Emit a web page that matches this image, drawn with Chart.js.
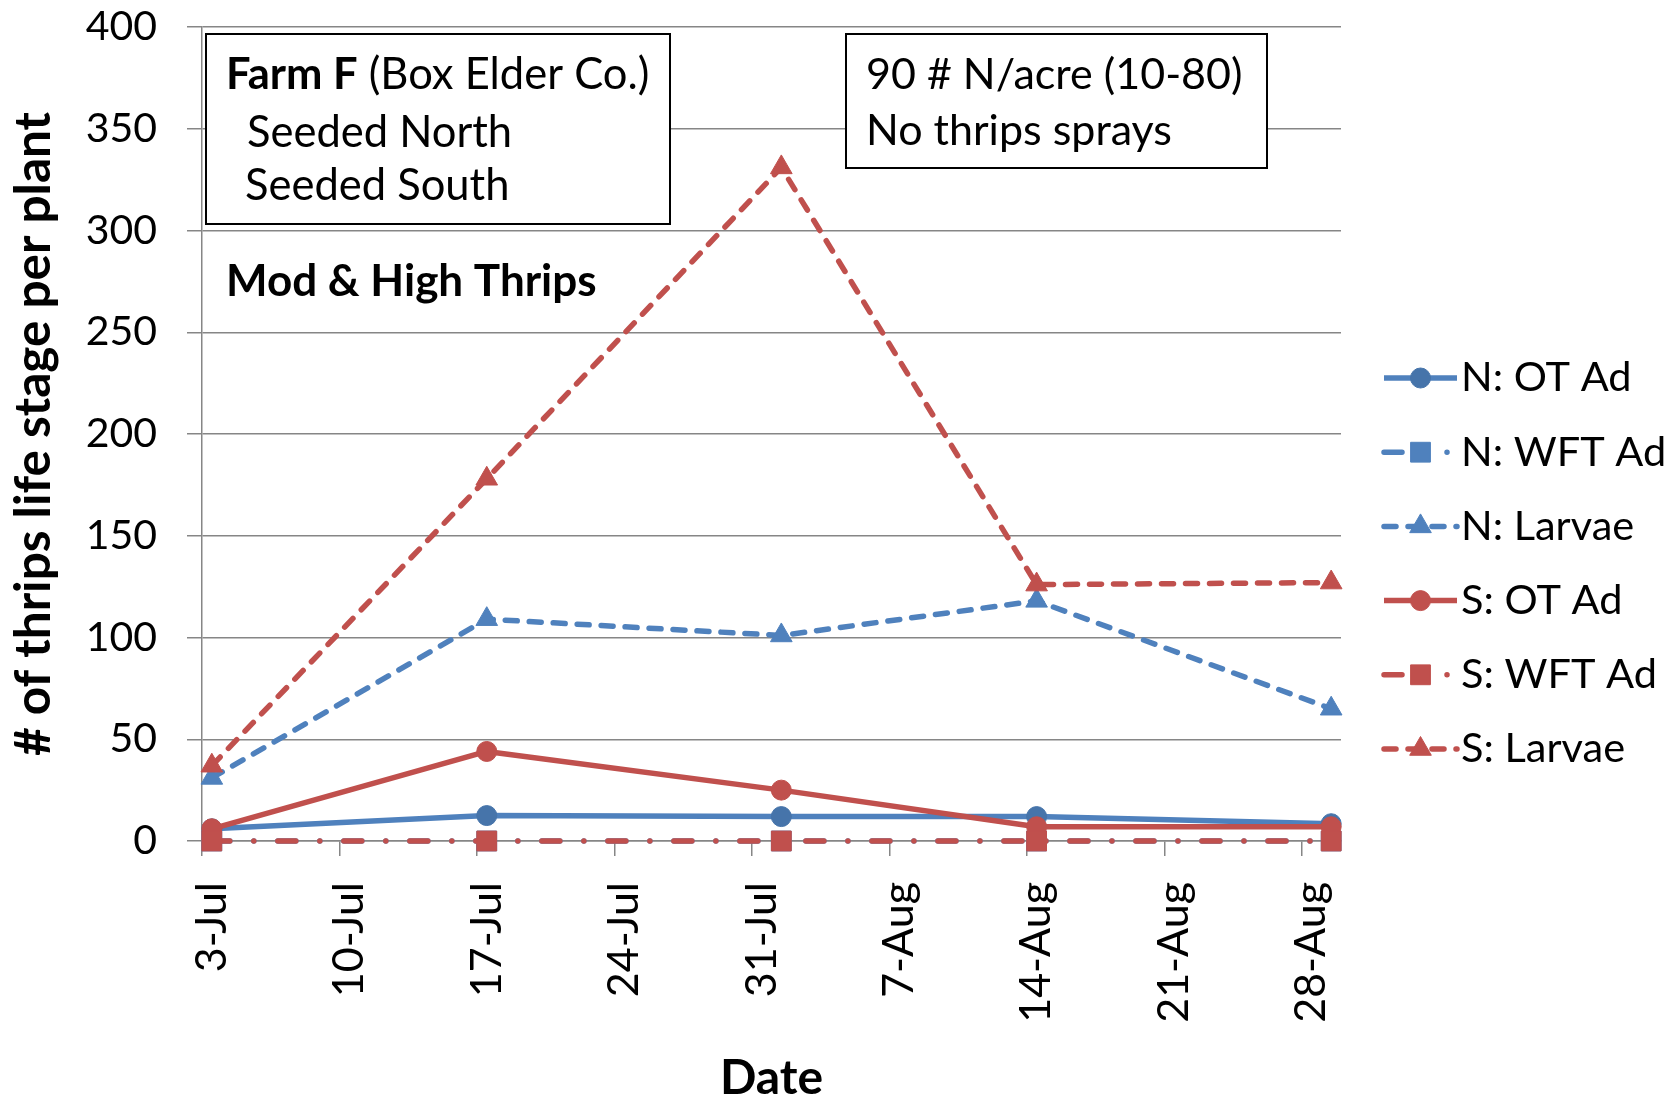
<!DOCTYPE html>
<html>
<head>
<meta charset="utf-8">
<script src="https://cdn.jsdelivr.net/npm/chart.js@4/dist/chart.umd.min.js"></script>
<style>
  html, body { margin: 0; padding: 0; background: #fff; }
  #wrap { width: 1675px; height: 1103px; position: relative; }
</style>
</head>
<body>
<div id="wrap"><canvas id="c" width="1675" height="1103"></canvas></div>
<script>
// Sampling dates and the weekly axis labels
const sampleDates = ['3-Jul', '17-Jul', '1-Aug', '14-Aug', '29-Aug'];
const tickLabels = ['3-Jul', '10-Jul', '17-Jul', '24-Jul', '31-Jul', '7-Aug', '14-Aug', '21-Aug', '28-Aug'];
const seriesNames = ['N: OT Ad', 'N: WFT Ad', 'N: Larvae', 'S: OT Ad', 'S: WFT Ad', 'S: Larvae'];

// Thrips counts per plant at each sampling date
const nOtAd   = [6, 12.5, 12, 12, 8.5];
const nWftAd  = [0, 0, 0, 0, 0];
const nLarvae = [31, 109, 101, 118, 65];
const sOtAd   = [6, 44, 25, 7, 7];
const sWftAd  = [0, 0, 0, 0, 0];
const sLarvae = [37, 178, 331, 126, 127];

const FONT = 'Lato, "Open Sans", sans-serif';
const BLUE = '#4F81BD';
const RED = '#C0504D';
const GRID = '#868686';

// day number counted from 3-Jul; each day is one slot on the date axis
const monthStart = { Jul: 0, Aug: 31 };
function dayIndex(label) {
  const [d, m] = label.split('-');
  return monthStart[m] + parseInt(d, 10) - 3;
}
const AXIS_DAYS = dayIndex(sampleDates[sampleDates.length - 1]) + 1;
const toPoints = vals => vals.map((v, i) => ({ x: dayIndex(sampleDates[i]) + 0.5, y: v }));

const styles = [
  { color: BLUE, marker: '#4674AA', dash: [], style: 'circle', r: 10 },
  { color: BLUE, marker: BLUE, dash: [18, 24, 0.01, 24], style: 'rect', r: 14 },
  { color: BLUE, marker: BLUE, dash: [12, 12], style: 'triangle', r: 12.5 },
  { color: RED, marker: RED, dash: [], style: 'circle', r: 10 },
  { color: RED, marker: RED, dash: [18, 24, 0.01, 24], style: 'rect', r: 14 },
  { color: RED, marker: RED, dash: [12, 12], style: 'triangle', r: 12.5 }
];
const seriesValues = [nOtAd, nWftAd, nLarvae, sOtAd, sWftAd, sLarvae];

const datasets = seriesValues.map((vals, i) => {
  const s = styles[i];
  return {
    label: seriesNames[i],
    data: toPoints(vals),
    borderColor: s.color,
    backgroundColor: s.color,
    borderWidth: 5.5,
    borderDash: s.dash,
    borderCapStyle: s.dash.length ? 'round' : 'butt',
    borderJoinStyle: 'round',
    tension: 0,
    fill: false,
    pointStyle: s.style,
    pointRadius: s.r,
    pointBackgroundColor: s.marker,
    pointBorderColor: s.marker,
    pointBorderWidth: 1,
    clip: false,
    order: seriesValues.length - i
  };
});

function drawMarker(ctx, style, r, x, y, fill) {
  ctx.save();
  ctx.setLineDash([]);
  ctx.fillStyle = fill;
  ctx.strokeStyle = fill;
  ctx.lineWidth = 1;
  ctx.beginPath();
  if (style === 'circle') {
    ctx.arc(x, y, r, 0, Math.PI * 2);
  } else if (style === 'rect') {
    const h = r * Math.SQRT1_2;
    ctx.rect(x - h, y - h, 2 * h, 2 * h);
  } else {
    ctx.moveTo(x, y - r);
    ctx.lineTo(x + r * Math.sin(Math.PI * 2 / 3), y - r * Math.cos(Math.PI * 2 / 3));
    ctx.lineTo(x + r * Math.sin(Math.PI * 4 / 3), y - r * Math.cos(Math.PI * 4 / 3));
    ctx.closePath();
  }
  ctx.fill();
  ctx.stroke();
  ctx.restore();
}

// Text boxes inside the plot
const noteBoxes = {
  id: 'noteBoxes',
  beforeDatasetsDraw(chart) {
    const { ctx, chartArea: a } = chart;
    ctx.save();
    ctx.fillStyle = '#fff';
    ctx.strokeStyle = '#000';
    ctx.lineWidth = 2;
    const boxes = [
      [a.left + 4, a.top + 7, 464, 190],
      [a.left + 644, a.top + 7, 421, 134]
    ];
    boxes.forEach(([x, y, w, h]) => { ctx.fillRect(x, y, w, h); ctx.strokeRect(x, y, w, h); });

    ctx.fillStyle = '#000';
    ctx.textBaseline = 'middle';
    ctx.textAlign = 'left';
    const bx = a.left + 24;
    ctx.font = 'bold 43.5px ' + FONT;
    ctx.fillText('Farm F', bx, a.top + 48);
    const bw = ctx.measureText('Farm F').width;
    ctx.font = '43.5px ' + FONT;
    ctx.fillText(' (Box Elder Co.)', bx + bw, a.top + 48);
    ctx.fillText('Seeded North', a.left + 45, a.top + 106);
    ctx.fillText('Seeded South', a.left + 43, a.top + 159);
    ctx.font = 'bold 44px ' + FONT;
    ctx.fillText('Mod & High Thrips', bx, a.top + 255);
    ctx.font = '43px ' + FONT;
    ctx.fillText('90 # N/acre (10-80)', a.left + 664, a.top + 48);
    ctx.fillText('No thrips sprays', a.left + 664, a.top + 104);
    ctx.restore();
  }
};

// Series key on the right: line sample, marker and name
const seriesKey = {
  id: 'seriesKey',
  afterDraw(chart) {
    const { ctx, chartArea: a } = chart;
    const x0 = a.right + 43, x1 = a.right + 116, xm = (x0 + x1) / 2;
    const y0 = 378, step = 74.2;
    ctx.save();
    chart.data.datasets.forEach((ds, i) => {
      const y = y0 + i * step;
      ctx.save();
      ctx.strokeStyle = ds.borderColor;
      ctx.lineWidth = ds.borderWidth;
      ctx.lineCap = ds.borderCapStyle;
      // dash-dot samples show one dash and one dot either side of the marker
      ctx.setLineDash(ds.borderDash.length === 4 ? [18, 45, 0.01, 100] : ds.borderDash);
      ctx.beginPath();
      ctx.moveTo(x0, y);
      ctx.lineTo(x1, y);
      ctx.stroke();
      ctx.restore();
      drawMarker(ctx, ds.pointStyle, ds.pointRadius, xm, y, ds.pointBackgroundColor);
      ctx.fillStyle = '#000';
      ctx.font = '41.5px ' + FONT;
      ctx.textBaseline = 'middle';
      ctx.textAlign = 'left';
      ctx.fillText(ds.label, x1 + 4, y);
    });
    ctx.restore();
  }
};

Chart.defaults.font.family = FONT;
Chart.defaults.color = '#000';

new Chart(document.getElementById('c'), {
  type: 'line',
  data: { datasets },
  options: {
    responsive: false,
    animation: false,
    events: [],
    layout: { padding: { top: 27, right: 334, left: 0, bottom: 0 } },
    plugins: { legend: { display: false }, tooltip: { enabled: false } },
    scales: {
      x: {
        type: 'linear',
        min: 0,
        max: AXIS_DAYS,
        afterBuildTicks: s => { s.ticks = tickLabels.map((_, i) => ({ value: i * 7 })); },
        afterFit: s => { s.height = 262; s.paddingLeft = 0; s.paddingRight = 0; },
        ticks: {
          autoSkip: false,
          minRotation: 90,
          maxRotation: 90,
          labelOffset: 9.8,
          padding: 26,
          font: { size: 43 },
          callback: (v, i) => tickLabels[i]
        },
        grid: { drawOnChartArea: false, drawTicks: true, tickLength: 15, color: GRID, lineWidth: 1.5 },
        border: { color: GRID, width: 1.5 },
        title: { display: true, text: 'Date', font: { size: 48, weight: 'bold', lineHeight: 1 }, padding: { top: 0, bottom: 0 } }
      },
      y: {
        min: 0,
        max: 400,
        afterFit: s => { s.width = 202; s.paddingTop = 0; s.paddingBottom = 0; },
        ticks: { stepSize: 50, padding: 30, font: { size: 41 } },
        grid: { color: GRID, lineWidth: 1.5, tickLength: 15 },
        border: { color: GRID, width: 1.5 },
        title: { display: true, text: '# of thrips life stage per plant', font: { size: 49.5, weight: 'bold' }, padding: { top: 4, bottom: 0 } }
      }
    }
  },
  plugins: [noteBoxes, seriesKey]
});
</script>
</body>
</html>
